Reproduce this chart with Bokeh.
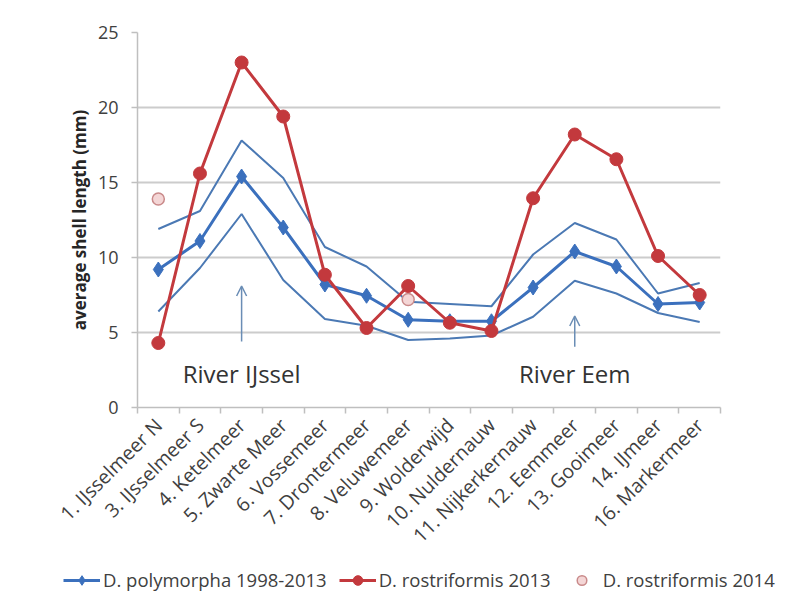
import math
from bokeh.plotting import figure
from bokeh.models import (FixedTicker, Legend, LegendItem, Label, Arrow, OpenHead,
                          Range1d)
from bokeh.embed import file_html
from bokeh.resources import INLINE

# ---- data ----
lakes = ["1. IJsselmeer N", "3. IJsselmeer S", "4. Ketelmeer", "5. Zwarte Meer",
         "6. Vossemeer", "7. Drontermeer", "8. Veluwemeer", "9. Wolderwijd",
         "10. Nuldernauw", "11. Nijkerkernauw", "12. Eemmeer", "13. Gooimeer",
         "14. IJmeer", "16. Markermeer"]
polymorpha_mean = [9.2, 11.1, 15.4, 12.0, 8.2, 7.45, 5.85, 5.75, 5.75, 8.0, 10.4, 9.4, 6.9, 7.0]
polymorpha_upper = [11.9, 13.1, 17.8, 15.3, 10.7, 9.4, 7.05, 6.9, 6.75, 10.2, 12.3, 11.2, 7.6, 8.3]
polymorpha_lower = [6.4, 9.3, 12.9, 8.5, 5.9, 5.45, 4.5, 4.6, 4.8, 6.05, 8.45, 7.6, 6.3, 5.7]
rostriformis_2013 = [4.3, 15.6, 23.0, 19.4, 8.85, 5.3, 8.1, 5.65, 5.1, 13.95, 18.2, 16.55, 10.1, 7.5]
rostriformis_2014 = [13.9, None, None, None, None, None, 7.2, None, None, None, None, None, None, None]
y_ticks = [0, 5, 10, 15, 20, 25]

# annotations: (lake, label, arrow bottom, arrow top)
rivers = [("4. Ketelmeer", "River IJssel", 4.4, 8.1),
          ("12. Eemmeer", "River Eem", 4.05, 6.1)]
river_label_y = 2.3

# ---- layout ----
xc = [i + 0.5 for i in range(len(lakes))]
nan = float("nan")
r14 = [nan if v is None else v for v in rostriformis_2014]

FONT = "Open Sans"
TXT = "#404040"
BLUE = "#3b70bd"
BLUE_THIN = "#4b79b4"
RED = "#c3393d"
PINK_FILL = "#f4d6d6"
PINK_LINE = "#c98a8a"

W = 809
p = figure(width=W, height=560, output_backend="svg", toolbar_location=None,
           x_range=Range1d(0, len(lakes)), y_range=Range1d(0, 25),
           min_border_left=137, min_border_right=89, min_border_top=32,
           min_border_bottom=153)
p.outline_line_color = None
p.background_fill_color = "white"

# axes
p.xaxis.ticker = FixedTicker(ticks=xc, minor_ticks=list(range(len(lakes) + 1)))
p.xaxis.major_label_overrides = {x: name for x, name in zip(xc, lakes)}
p.xaxis.major_label_orientation = math.pi / 4
p.xaxis.major_tick_out = 0
p.xaxis.major_tick_in = 0
p.xaxis.minor_tick_out = 6
p.xaxis.minor_tick_in = 0
p.xaxis.minor_tick_line_color = "#bfbfbf"
p.xaxis.minor_tick_line_width = 1.5
p.xaxis.axis_line_color = "#bfbfbf"
p.xaxis.axis_line_width = 1.5
p.xaxis.major_label_text_font = FONT
p.xaxis.major_label_text_font_size = "19.5px"
p.xaxis.major_label_text_color = TXT
p.xaxis.major_label_standoff = 8

p.yaxis.ticker = FixedTicker(ticks=y_ticks)
p.yaxis.minor_tick_line_color = None
p.yaxis.major_tick_out = 6
p.yaxis.major_tick_in = 0
p.yaxis.major_tick_line_color = "#bfbfbf"
p.yaxis.major_tick_line_width = 1.5
p.yaxis.axis_line_color = "#bfbfbf"
p.yaxis.axis_line_width = 1.5
p.yaxis.major_label_text_font = FONT
p.yaxis.major_label_text_font_size = "18px"
p.yaxis.major_label_text_color = TXT
p.yaxis.major_label_standoff = 13
p.yaxis.axis_label = "average shell length (mm)"
p.yaxis.axis_label_text_font = FONT
p.yaxis.axis_label_text_font_size = "17px"
p.yaxis.axis_label_text_font_style = "bold"
p.yaxis.axis_label_text_color = "#262626"
p.yaxis.axis_label_standoff = 4

p.xgrid.grid_line_color = None
p.ygrid.grid_line_color = "#cccccc"
p.ygrid.grid_line_width = 1.8

# lines
p.line(xc, polymorpha_upper, line_color=BLUE_THIN, line_width=2)
p.line(xc, polymorpha_lower, line_color=BLUE_THIN, line_width=2)
p.line(xc, polymorpha_mean, line_color=BLUE, line_width=3)
p.scatter(xc, polymorpha_mean, marker="diamond", size=15, fill_color=BLUE,
          line_color=BLUE)
p.scatter(xc, r14, marker="circle", size=12, fill_color=PINK_FILL,
          line_color=PINK_LINE, line_width=1.5)
p.line(xc, rostriformis_2013, line_color=RED, line_width=3)
p.scatter(xc, rostriformis_2013, marker="circle", size=13, fill_color=RED,
          line_color=RED)

# river annotations
for lake, text, y0, y1 in rivers:
    x = lakes.index(lake) + 0.5
    p.add_layout(Arrow(x_start=x, y_start=y0, x_end=x, y_end=y1,
                       line_color="#6a8db5", line_width=1.5,
                       end=OpenHead(size=10, line_color="#6a8db5", line_width=1.5)))
    p.add_layout(Label(x=x, y=river_label_y, text=text, text_align="center",
                       text_baseline="middle", text_font=FONT,
                       text_font_size="24px", text_color="#333333"))

# ---- legend strip: separate root, styled proxies with a single NaN point ----
lf = figure(width=W, height=43, output_backend="svg", toolbar_location=None,
            x_range=Range1d(0, 1), y_range=Range1d(0, 1),
            min_border=0, min_border_left=0, min_border_right=0,
            min_border_top=0, min_border_bottom=0)
lf.axis.visible = False
lf.grid.visible = False
lf.outline_line_color = None
g1 = lf.line([nan], [nan], line_color=BLUE, line_width=3)
g1m = lf.scatter([nan], [nan], marker="diamond", size=11, fill_color=BLUE, line_color=BLUE)
g2 = lf.line([nan], [nan], line_color=RED, line_width=3)
g2m = lf.scatter([nan], [nan], marker="circle", size=10, fill_color=RED, line_color=RED)
g3m = lf.scatter([nan], [nan], marker="circle", size=10, fill_color=PINK_FILL,
                 line_color=PINK_LINE, line_width=1.5)

legend = Legend(items=[
    LegendItem(label="D. polymorpha 1998-2013", renderers=[g1, g1m]),
    LegendItem(label="D. rostriformis 2013", renderers=[g2, g2m]),
    LegendItem(label="D. rostriformis 2014", renderers=[g3m]),
], orientation="horizontal", location=(63, 11))
legend.label_text_font = FONT
legend.label_text_font_size = "18.5px"
legend.label_text_color = TXT
legend.glyph_width = 37
legend.glyph_height = 24
legend.label_standoff = 3
legend.spacing = 12
legend.padding = 0
legend.margin = 0
legend.border_line_color = None
legend.background_fill_alpha = 0
lf.add_layout(legend, "center")

open("out.html", "w").write(file_html([p, lf], INLINE))
